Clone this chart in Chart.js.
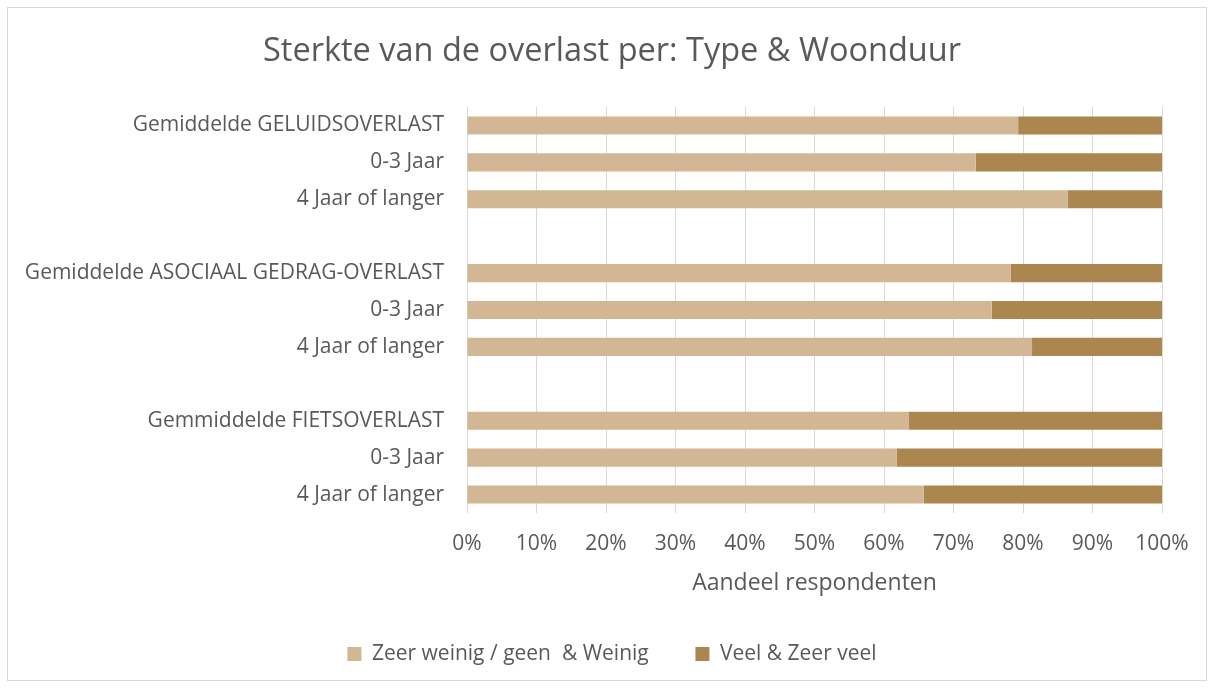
<!DOCTYPE html>
<html>
<head>
<meta charset="utf-8">
<script src="https://cdn.jsdelivr.net/npm/chart.js@4.4.1/dist/chart.umd.min.js"></script>
<style>
    html, body { margin: 0; padding: 0; background: #fff; }
    #wrap { position: relative; width: 1214px; height: 688px; }
    #frame { position: absolute; left: 7px; top: 7px; width: 1198px; height: 672px; border: 1px solid #d9d9d9; pointer-events: none; }
</style>
</head>
<body>
<div id="wrap">
    <canvas id="grafico" width="1214" height="688"></canvas>
    <div id="frame"></div>
</div>
<script>
// Categorieën (lege labels zijn de witregels tussen de groepen)
const categorieen = [
    'Gemiddelde GELUIDSOVERLAST', '0-3 Jaar', '4 Jaar of langer', '',
    'Gemiddelde ASOCIAAL GEDRAG-OVERLAST', '0-3 Jaar', '4 Jaar of langer', '',
    'Gemmiddelde FIETSOVERLAST', '0-3 Jaar', '4 Jaar of langer'
];
// Aandeel "Zeer weinig / geen & Weinig" (%)
const weinig = [79.3, 73.2, 86.4, null, 78.2, 75.5, 81.3, null, 63.6, 61.8, 65.7];
// Aandeel "Veel & Zeer veel" (%)
const veel   = [20.7, 26.8, 13.6, null, 21.8, 24.5, 18.7, null, 36.4, 38.2, 34.3];
const xTicks = [0, 10, 20, 30, 40, 50, 60, 70, 80, 90, 100];

const tekstKleur = '#595959';
const fontFam    = '"Open Sans", "Noto Sans", sans-serif';

new Chart(document.getElementById('grafico'), {
    type: 'bar',
    data: {
        labels: categorieen,
        datasets: [
            { label: 'Zeer weinig / geen  & Weinig', data: weinig, backgroundColor: '#d3b795',
              categoryPercentage: 1, barPercentage: 0.49 },
            { label: 'Veel & Zeer veel', data: veel, backgroundColor: '#ab874f',
              categoryPercentage: 1, barPercentage: 0.49 }
        ]
    },
    options: {
        indexAxis: 'y',
        responsive: false,
        animation: false,
        layout: { padding: { left: 10, right: 0, top: 0, bottom: 13.5 } },
        plugins: {
            title: {
                display: true,
                text: 'Sterkte van de overlast per: Type & Woonduur',
                color: tekstKleur,
                font: { family: fontFam, size: 32.5, weight: 'normal' },
                padding: { top: 32.5, bottom: 35.5 }
            },
            legend: {
                position: 'bottom',
                labels: {
                    color: tekstKleur,
                    font: { family: fontFam, size: 21 },
                    boxWidth: 14, boxHeight: 14,
                    padding: 46.7
                }
            },
            tooltip: { enabled: false }
        },
        scales: {
            x: {
                stacked: true,
                min: 0, max: 100,
                afterBuildTicks: (scale) => { scale.ticks = xTicks.map(v => ({ value: v })); },
                ticks: {
                    color: tekstKleur,
                    font: { family: fontFam, size: 21 },
                    padding: 18.4,
                    callback: (v) => v + '%'
                },
                grid: { color: '#d9d9d9', drawTicks: false },
                border: { display: false },
                title: {
                    display: true,
                    text: 'Aandeel respondenten',
                    color: tekstKleur,
                    font: { family: fontFam, size: 23 },
                    padding: { top: 0, bottom: 0 }
                },
                afterFit: (scale) => { scale.height = 83.8; }
            },
            y: {
                stacked: true,
                ticks: {
                    color: tekstKleur,
                    font: { family: fontFam, size: 21 },
                    padding: 23,
                    autoSkip: false
                },
                grid: { display: false, drawTicks: false },
                border: { display: false },
                afterFit: (scale) => { scale.width = 457; }
            },
            // lege as rechts: houdt ruimte vrij naast het plotgebied
            yRechts: {
                type: 'category',
                position: 'right',
                ticks: { display: false },
                grid: { display: false, drawTicks: false },
                border: { display: false },
                afterFit: (scale) => { scale.width = 52; }
            }
        }
    }
});
</script>
</body>
</html>
